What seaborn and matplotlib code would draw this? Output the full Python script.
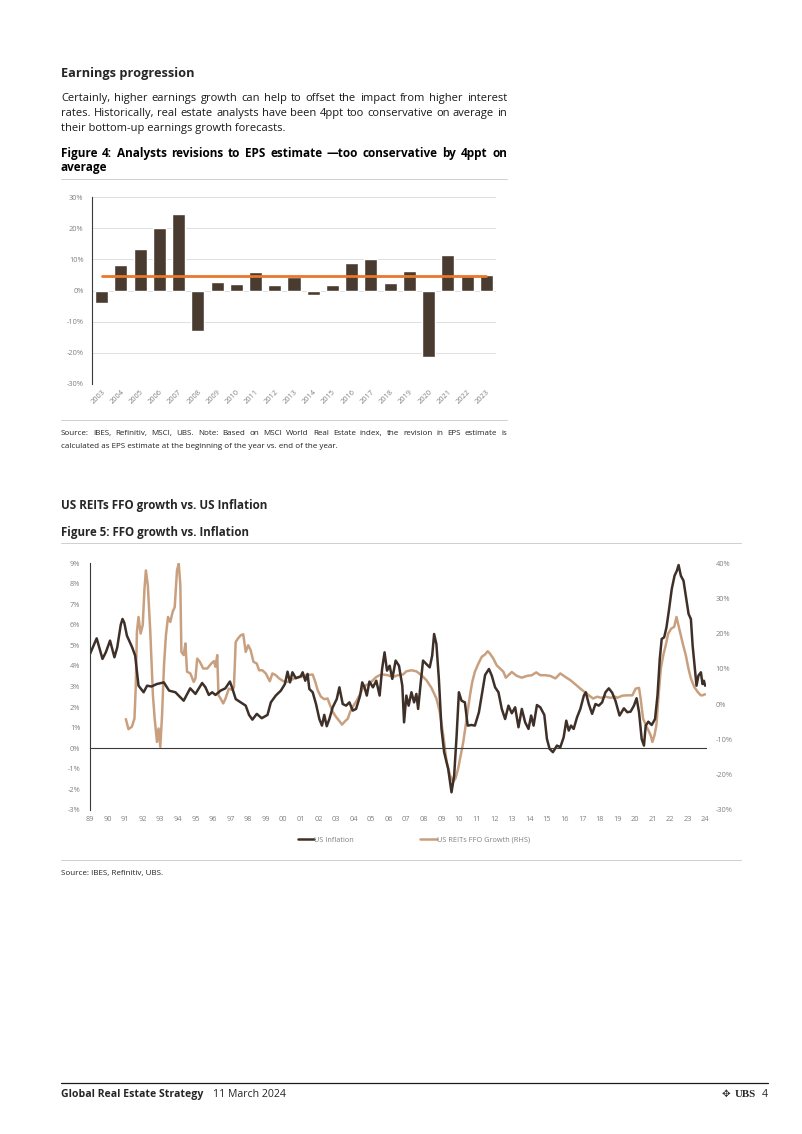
import numpy as np
import pandas as pd
import matplotlib
matplotlib.use('Agg')
import matplotlib.pyplot as plt
import matplotlib.ticker as mticker
import seaborn as sns

# ---- Figure 4 data: revisions to EPS estimate (%)
years = ['2003', '2004', '2005', '2006', '2007', '2008', '2009', '2010', '2011', '2012', '2013',
         '2014', '2015', '2016', '2017', '2018', '2019', '2020', '2021', '2022', '2023']
revisions = [-4.0, 8.2, 13.3, 20.0, 24.6, -13.0, 2.8, 2.0, 5.8, 1.8, 4.3,
             -1.6, 1.8, 8.9, 10.2, 2.5, 6.1, -21.3, 11.4, 4.7, 5.1]
avg_revision = 4.5

# ---- Figure 5 data: US inflation (LHS, %) and US REITs FFO growth (RHS, %)
infl_t = [1989.0, 1989.38, 1989.71, 1989.9, 1990.14, 1990.39, 1990.55, 1990.75, 1990.85, 1990.95,
          1991.1, 1991.4, 1991.57, 1991.76, 1992.05, 1992.25, 1992.5, 1992.8, 1993.2, 1993.5,
          1993.86, 1994.33, 1994.7, 1995.0, 1995.38, 1995.57, 1995.76, 1995.95, 1996.14, 1996.43,
          1996.7, 1996.96, 1997.1, 1997.29, 1997.57, 1997.86, 1998.05, 1998.24, 1998.49, 1998.77,
          1999.1, 1999.29, 1999.57, 1999.86, 2000.09, 2000.24, 2000.38, 2000.52, 2000.71, 2001.0,
          2001.1, 2001.25, 2001.38, 2001.48, 2001.67, 2001.86, 2002.05, 2002.2, 2002.33, 2002.47,
          2002.62, 2002.81, 2003.04, 2003.19, 2003.38, 2003.57, 2003.76, 2003.95, 2004.14, 2004.37,
          2004.49, 2004.62, 2004.75, 2004.9, 2005.1, 2005.29, 2005.48, 2005.62, 2005.76, 2005.9,
          2006.05, 2006.2, 2006.39, 2006.58, 2006.77, 2006.87, 2007.0, 2007.13, 2007.29, 2007.44,
          2007.57, 2007.67, 2007.82, 2007.95, 2008.14, 2008.33, 2008.47, 2008.58, 2008.71, 2008.85,
          2009.0, 2009.15, 2009.38, 2009.57, 2009.72, 2009.86, 2009.99, 2010.14, 2010.33, 2010.49,
          2010.71, 2010.9, 2011.13, 2011.32, 2011.48, 2011.7, 2011.86, 2012.05, 2012.24, 2012.43,
          2012.62, 2012.81, 2013.0, 2013.19, 2013.38, 2013.57, 2013.76, 2013.95, 2014.1, 2014.24,
          2014.43, 2014.62, 2014.85, 2015.0, 2015.15, 2015.34, 2015.57, 2015.76, 2015.95, 2016.1,
          2016.24, 2016.37, 2016.52, 2016.71, 2016.9, 2017.1, 2017.21, 2017.38, 2017.57, 2017.76,
          2017.95, 2018.14, 2018.33, 2018.52, 2018.71, 2018.9, 2019.13, 2019.38, 2019.57, 2019.76,
          2019.95, 2020.1, 2020.24, 2020.39, 2020.52, 2020.62, 2020.77, 2020.96, 2021.15, 2021.29,
          2021.42, 2021.53, 2021.67, 2021.8, 2021.95, 2022.1, 2022.26, 2022.39, 2022.49, 2022.62,
          2022.77, 2022.9, 2023.06, 2023.19, 2023.29, 2023.4, 2023.51, 2023.62, 2023.76, 2023.85,
          2023.93, 2024.0]
inflation = [4.58, 5.34, 4.34, 4.66, 5.23, 4.42, 4.9, 6.0, 6.28, 6.1,
             5.47, 4.9, 4.5, 3.04, 2.72, 3.04, 3.0, 3.12, 3.2, 2.8,
             2.72, 2.31, 2.91, 2.64, 3.17, 2.96, 2.59, 2.72, 2.59, 2.8,
             2.91, 3.24, 2.91, 2.39, 2.23, 2.07, 1.62, 1.39, 1.67, 1.46,
             1.62, 2.23, 2.56, 2.8, 3.12, 3.72, 3.2, 3.69, 3.4, 3.5,
             3.69, 3.28, 3.61, 2.88, 2.72, 2.15, 1.42, 1.1, 1.62, 1.07,
             1.42, 1.99, 2.39, 2.96, 2.15, 2.07, 2.23, 1.83, 1.91, 2.56,
             3.2, 2.96, 2.56, 3.24, 2.96, 3.28, 2.56, 3.85, 4.66, 3.77,
             4.01, 3.37, 4.26, 4.01, 3.04, 1.26, 2.56, 2.07, 2.72, 2.23,
             2.64, 1.91, 3.2, 4.26, 4.09, 3.93, 4.5, 5.55, 5.06, 3.37,
             0.94, -0.19, -1.0, -2.14, -1.33, 0.61, 2.72, 2.31, 2.23, 1.1,
             1.13, 1.1, 1.75, 2.72, 3.56, 3.85, 3.53, 2.96, 2.72, 1.91,
             1.42, 2.07, 1.7, 1.99, 1.02, 1.91, 1.26, 0.94, 1.59, 1.1,
             2.1, 1.99, 1.62, 0.45, -0.03, -0.19, 0.13, 0.05, 0.53, 1.34,
             0.86, 1.1, 0.94, 1.5, 1.91, 2.56, 2.72, 2.15, 1.67, 2.15,
             2.07, 2.23, 2.72, 2.91, 2.7, 2.3, 1.59, 1.94, 1.75, 1.78,
             2.07, 2.43, 1.75, 0.45, 0.13, 1.1, 1.29, 1.13, 1.42, 2.56,
             4.34, 5.31, 5.39, 5.87, 6.76, 7.73, 8.38, 8.62, 8.9, 8.38,
             8.14, 7.41, 6.52, 6.28, 4.98, 4.01, 3.04, 3.53, 3.69, 3.12,
             3.28, 3.04]

ffo_t = [1991.04, 1991.19, 1991.38, 1991.53, 1991.6, 1991.67, 1991.76, 1991.88, 1992.0, 1992.1,
         1992.18, 1992.29, 1992.43, 1992.58, 1992.68, 1992.81, 1992.9, 1993.0, 1993.1, 1993.21,
         1993.32, 1993.44, 1993.57, 1993.7, 1993.82, 1993.95, 1994.05, 1994.14, 1994.2, 1994.33,
         1994.43, 1994.52, 1994.71, 1994.9, 1995.0, 1995.1, 1995.25, 1995.44, 1995.67, 1995.9,
         1996.05, 1996.14, 1996.24, 1996.31, 1996.43, 1996.58, 1996.71, 1996.9, 1997.1, 1997.19,
         1997.29, 1997.42, 1997.57, 1997.72, 1997.86, 1998.0, 1998.14, 1998.3, 1998.49, 1998.62,
         1998.81, 1999.0, 1999.23, 1999.38, 1999.57, 1999.76, 2000.0, 2000.24, 2000.43, 2000.71,
         2001.0, 2001.29, 2001.67, 2001.82, 2001.95, 2002.14, 2002.33, 2002.52, 2002.62, 2002.81,
         2003.0, 2003.19, 2003.34, 2003.52, 2003.67, 2003.8, 2003.95, 2004.14, 2004.33, 2004.52,
         2004.71, 2004.9, 2005.1, 2005.29, 2005.48, 2005.67, 2005.95, 2006.24, 2006.52, 2006.81,
         2007.0, 2007.29, 2007.57, 2007.86, 2008.14, 2008.43, 2008.71, 2008.9, 2009.1, 2009.29,
         2009.48, 2009.67, 2009.8, 2009.95, 2010.1, 2010.24, 2010.43, 2010.62, 2010.75, 2010.9,
         2011.1, 2011.29, 2011.48, 2011.63, 2011.76, 2011.95, 2012.14, 2012.33, 2012.52, 2012.66,
         2012.81, 2013.0, 2013.29, 2013.57, 2013.86, 2014.14, 2014.39, 2014.62, 2014.9, 2015.19,
         2015.48, 2015.76, 2016.05, 2016.33, 2016.62, 2016.9, 2017.13, 2017.38, 2017.63, 2017.86,
         2018.09, 2018.33, 2018.62, 2018.9, 2019.0, 2019.29, 2019.57, 2019.86, 2020.05, 2020.24,
         2020.33, 2020.47, 2020.62, 2020.77, 2020.9, 2021.0, 2021.12, 2021.23, 2021.35, 2021.48,
         2021.62, 2021.76, 2021.9, 2022.07, 2022.24, 2022.37, 2022.48, 2022.62, 2022.75, 2022.9,
         2023.05, 2023.19, 2023.38, 2023.57, 2023.75, 2023.85, 2024.0]
ffo_growth = [-4.25, -7.1, -6.4, -4.1, 4.4, 20.5, 24.7, 20.0, 22.4, 32.7,
              37.9, 33.7, 20.5, 2.5, -4.1, -10.7, -6.9, -12.1, -3.1, 11.0,
              19.5, 24.7, 23.3, 26.1, 27.5, 37.9, 39.8, 33.7, 14.8, 13.9,
              17.2, 9.2, 8.7, 6.3, 7.3, 12.9, 12.0, 10.1, 10.1, 11.5,
              12.2, 10.6, 13.9, 2.5, 1.6, 0.2, 1.6, 4.4, 4.0, 4.9,
              17.6, 18.6, 19.5, 19.8, 14.8, 16.7, 15.3, 12.0, 11.5, 9.6,
              9.6, 8.7, 6.5, 8.7, 8.2, 7.3, 6.5, 6.3, 6.8, 7.5,
              7.7, 8.2, 8.4, 6.3, 4.0, 2.1, 1.4, 1.6, 0.2, -2.2,
              -3.6, -4.8, -5.8, -4.8, -4.1, -2.2, -0.75, 0.7, 2.5, 4.4,
              5.4, 5.8, 6.8, 7.7, 8.2, 8.4, 8.2, 7.7, 8.2, 8.4,
              9.3, 9.6, 9.3, 8.2, 6.8, 4.6, 1.6, -2.2, -8.8, -16.3,
              -20.1, -22.0, -21.0, -18.2, -14.4, -10.7, -4.1, 2.5, 6.3, 9.2,
              11.5, 13.4, 14.1, 15.0, 14.3, 12.9, 11.0, 10.1, 9.2, 7.5,
              8.2, 9.1, 8.0, 7.5, 8.0, 8.2, 9.0, 8.2, 8.2, 8.0,
              7.3, 8.7, 7.7, 6.8, 5.6, 4.4, 3.5, 2.5, 1.6, 2.1,
              1.8, 2.1, 1.8, 2.1, 1.8, 2.4, 2.5, 2.5, 4.4, 4.6,
              1.6, -4.1, -5.9, -7.4, -8.8, -10.7, -8.8, -5.9, 2.5, 10.1,
              13.9, 16.7, 20.0, 21.4, 21.9, 24.7, 22.4, 19.5, 16.7, 13.9,
              10.1, 7.3, 4.9, 3.5, 2.5, 2.5, 2.8]

tick_years = list(range(1989, 2025))
tick_labels = [f"{y % 100:02d}" for y in tick_years]

# ---- style
sns.set_theme(style='white')
plt.rcParams['font.family'] = ['Open Sans', 'DejaVu Sans']

bar_color = '#4a3b30'
avg_color = '#e8782c'
infl_color = '#3e3028'
ffo_color = '#c9a07f'
tick_color = '#808080'
rule_color = '#cfcfcf'

W, H = 802, 1134
fig = plt.figure(figsize=(W / 100, H / 100), dpi=100)
fig.patch.set_facecolor('white')


def fx(x):
    return x / W


def fy(y):
    return 1 - y / H


def rule(y, x0=61, x1=741, color=rule_color, lw=0.7):
    fig.add_artist(plt.Line2D([fx(x0), fx(x1)], [fy(y), fy(y)], color=color, lw=lw))


renderer = fig.canvas.get_renderer()


def text_line(s, y, size, weight='normal', color='black', x0=61, x1=507, justify=True):
    if not justify:
        fig.text(fx(x0), fy(y), s, fontsize=size, fontweight=weight, color=color, va='baseline')
        return
    words = s.split()
    objs = [fig.text(0, fy(y), w, fontsize=size, fontweight=weight, color=color, va='baseline')
            for w in words]
    widths = [o.get_window_extent(renderer).width for o in objs]
    gap = (x1 - x0 - sum(widths)) / max(len(words) - 1, 1)
    x = x0
    for o, w in zip(objs, widths):
        o.set_x(fx(x))
        x += w + gap


# ---- text above figure 4
fig.text(fx(61), fy(77), 'Earnings progression', fontsize=9.2, fontweight='bold', va='baseline')
body = ['Certainly, higher earnings growth can help to offset the impact from higher interest',
        'rates. Historically, real estate analysts have been 4ppt too conservative on average in',
        'their bottom-up earnings growth forecasts.']
for i, line in enumerate(body):
    text_line(line, 101 + 15 * i, 8.0, color='#1a1a1a', justify=i < len(body) - 1)

text_line('Figure 4: Analysts revisions to EPS estimate \u2014too conservative by 4ppt on', 157, 8.5, 'bold')
text_line('average', 171, 8.5, 'bold', justify=False)
rule(179, x1=507)

# ---- Figure 4 chart
ax1 = fig.add_axes([fx(92), fy(384), fx(496) - fx(92), fy(197) - fy(384)])
sns.barplot(x=years, y=revisions, color=bar_color, saturation=1, width=0.68, ax=ax1)
ax1.plot(range(len(years)), [avg_revision] * len(years), color=avg_color, lw=2.0)
ax1.set_ylim(-30, 30)
ax1.set_xlim(-0.5, len(years) - 0.5)
ax1.set_yticks(range(-30, 31, 10))
ax1.yaxis.set_major_formatter(mticker.FuncFormatter(lambda v, p: f"{v:.0f}%"))
ax1.grid(axis='y', color='#e0e0e0', lw=0.7)
ax1.set_axisbelow(True)
for s in ['top', 'right', 'bottom']:
    ax1.spines[s].set_visible(False)
ax1.spines['left'].set_color('#3a3a3a')
ax1.spines['left'].set_linewidth(0.8)
ax1.tick_params(axis='y', length=0, pad=6, labelsize=5.3, labelcolor=tick_color)
ax1.tick_params(axis='x', length=0, pad=3, labelsize=5.3, labelcolor=tick_color)
plt.setp(ax1.get_xticklabels(), rotation=45, ha='right', rotation_mode='anchor')
ax1.set_xlabel('')
ax1.set_ylabel('')

rule(420, x1=507)
text_line('Source: IBES, Refinitiv, MSCI, UBS. Note: Based on MSCI World Real Estate index, the revision in EPS estimate is',
          435, 5.8, color='#222222')
text_line('calculated as EPS estimate at the beginning of the year vs. end of the year.', 448, 5.8,
          color='#222222', justify=False)

# ---- text above figure 5
fig.text(fx(61), fy(509), 'US REITs FFO growth vs. US Inflation', fontsize=8.4, fontweight='bold', va='baseline')
fig.text(fx(61), fy(536), 'Figure 5: FFO growth vs. Inflation', fontsize=8.3, fontweight='bold', va='baseline')
rule(543)

# ---- Figure 5 chart
ax2 = fig.add_axes([fx(90), fy(810), fx(706) - fx(90), fy(563) - fy(810)])
ax2r = ax2.twinx()
sns.lineplot(x=ffo_t, y=ffo_growth, ax=ax2r, color=ffo_color, lw=1.8, estimator=None, sort=False,
             label='US REITs FFO Growth (RHS)', legend=False)
sns.lineplot(x=infl_t, y=inflation, ax=ax2, color=infl_color, lw=1.8, estimator=None, sort=False,
             label='US Inflation', legend=False)
ax2.set_zorder(ax2r.get_zorder() + 1)
ax2.patch.set_visible(False)

ax2.set_xlim(1989, 2024.05)
ax2.set_ylim(-3, 9)
ax2r.set_ylim(-30, 40)
ax2.set_yticks(range(-3, 10))
ax2r.set_yticks(range(-30, 41, 10))
ax2.yaxis.set_major_formatter(mticker.FuncFormatter(lambda v, p: f"{v:.0f}%"))
ax2r.yaxis.set_major_formatter(mticker.FuncFormatter(lambda v, p: f"{v:.0f}%"))
ax2.tick_params(axis='y', length=0, pad=7, labelsize=5.3, labelcolor=tick_color)
ax2r.tick_params(axis='y', length=0, pad=7, labelsize=5.3, labelcolor=tick_color)

for s in ['top', 'right']:
    ax2.spines[s].set_visible(False)
for s in ['top', 'right', 'left', 'bottom']:
    ax2r.spines[s].set_visible(False)
ax2.spines['left'].set_color('#3a3a3a')
ax2.spines['left'].set_linewidth(0.8)
ax2.spines['bottom'].set_position(('data', 0))
ax2.spines['bottom'].set_color('#3a3a3a')
ax2.spines['bottom'].set_linewidth(0.8)
ax2.set_xticks(tick_years)
ax2.tick_params(axis='x', length=3, width=0.7, direction='inout', color='#3a3a3a', labelbottom=False)
ax2.set_xlabel('')
ax2.set_ylabel('')
ax2r.set_ylabel('')

sec = ax2.secondary_xaxis('bottom')
sec.set_xticks(tick_years, tick_labels)
sec.tick_params(length=0, pad=4, labelsize=5.3, labelcolor=tick_color)
for s in sec.spines.values():
    s.set_visible(False)

handles = [ax2.lines[0], ax2r.lines[0]]
fig.legend(handles, [h.get_label() for h in handles], loc='center', bbox_to_anchor=(fx(414), fy(840)),
           ncol=2, frameon=False, fontsize=5.3, labelcolor=tick_color, handlelength=2.2,
           handletextpad=0.1, columnspacing=9.0)

rule(860)
fig.text(fx(61), fy(875), 'Source: IBES, Refinitiv, UBS.', fontsize=5.8, color='#222222', va='baseline')

# ---- footer
rule(1083, x1=768, color='#1a1a1a', lw=0.9)
fig.text(fx(61), fy(1097), 'Global Real Estate Strategy', fontsize=7.6, fontweight='bold', va='baseline')
fig.text(fx(213), fy(1097), '11 March 2024', fontsize=7.6, va='baseline')
fig.text(fx(722), fy(1097), '\u2725', fontsize=7.5, va='baseline', color='#333333', family=['DejaVu Sans'])
fig.text(fx(735), fy(1097), 'UBS', fontsize=7.8, fontweight='bold', va='baseline', family=['Liberation Serif'])
fig.text(fx(762), fy(1097), '4', fontsize=7.6, va='baseline')

fig.savefig('out.png', dpi=100, facecolor='white')
